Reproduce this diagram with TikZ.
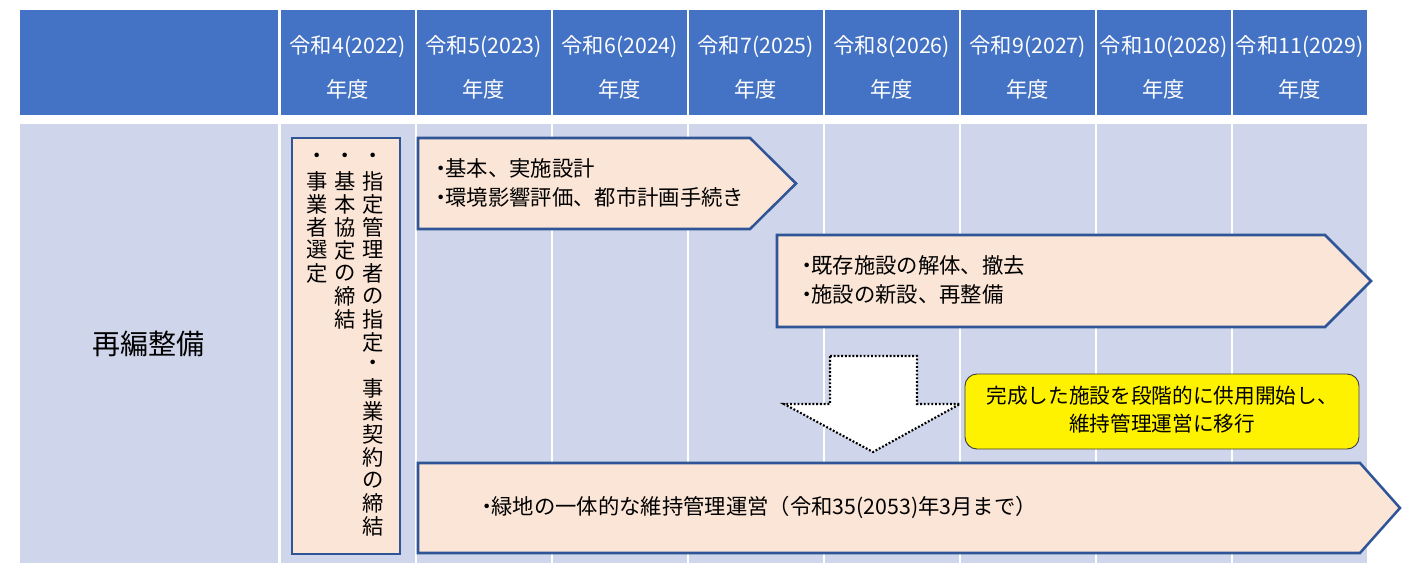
\documentclass[tikz,border=0pt]{standalone}
\usepackage{fontspec}
\setmainfont{Noto Sans CJK JP}
\definecolor{hdrblue}{HTML}{4472C4}
\definecolor{bodyblue}{HTML}{CFD5EA}
\definecolor{peachfill}{HTML}{FBE5D6}
\definecolor{bordblue}{HTML}{2F5597}
\newcommand\bul{・\hspace{-0.28em}}
\tikzset{
  hdrtext/.style={text=white, font=\fontsize{16}{18}\selectfont, inner sep=0pt},
  peachbox/.style={fill=peachfill, draw=bordblue, line width=1.9pt, line join=miter},
  bodytext/.style={font=\fontsize{16}{21.5}\selectfont, align=left, anchor=west, inner sep=0pt},
  vchar/.style={font=\fontsize{16}{18}\selectfont, inner sep=0pt},
  dotarrow/.style={fill=white, draw=black, line width=1.6pt, dash pattern=on 1.4pt off 1.4pt},
  notebox/.style={fill=yellow, draw=black!75, line width=0.7pt, rounded corners=9pt}
}
\begin{document}
\begin{tikzpicture}[x=0.75pt,y=-0.75pt]
\useasboundingbox (0,0) rectangle (1402,563);
% first column
\fill[hdrblue] (20,10) rectangle (278,115.5);
\fill[bodyblue] (20,124) rectangle (278,563);
\node[font=\fontsize{21}{24}\selectfont, inner sep=0pt] (label) at (148,344) {再編整備};
% year columns
\foreach \r/\yr [count=\i from 0] in {4/2022,5/2023,6/2024,7/2025,8/2026,9/2027,10/2028,11/2029} {
  \fill[hdrblue] (281+136*\i,10) rectangle (414.5+136*\i,115.5);
  \fill[bodyblue] (281+136*\i,124) rectangle (414.5+136*\i,563);
  \node[hdrtext] (h\i) at (347.75+136*\i,47) {令和\r(\yr)};
  \node[hdrtext] (hy\i) at (347.75+136*\i,89) {年度};
}
% vertical box
\draw[peachbox] (292,138) rectangle (400,554);
\foreach \c [count=\k from 0] in {・,指,定,管,理,者,の,指,定,・,事,業,契,約,の,締,結}
  \node[vchar] (va\k) at (373,158+23*\k) {\c};
\foreach \c [count=\k from 0] in {・,基,本,協,定,の,締,結}
  \node[vchar] (vb\k) at (345,158+23*\k) {\c};
\foreach \c [count=\k from 0] in {・,事,業,者,選,定}
  \node[vchar] (vc\k) at (317,158+23*\k) {\c};
% arrow 1
\draw[peachbox] (418,138) -- (750,138) -- (796,183.5) -- (750,229) -- (418,229) -- cycle;
\node[bodytext] (t1) at (430,183) {\bul 基本、実施設計\\\bul 環境影響評価、都市計画手続き};
% arrow 2
\draw[peachbox] (777,235) -- (1325,235) -- (1371,281) -- (1325,327) -- (777,327) -- cycle;
\node[bodytext] (t2) at (796,280) {\bul 既存施設の解体、撤去\\\bul 施設の新設、再整備};
% arrow 3
\draw[peachbox] (418,463) -- (1360,463) -- (1400,508) -- (1360,553) -- (418,553) -- cycle;
\node[bodytext] (t3) at (476,507) {\bul 緑地の一体的な維持管理運営（令和35(2053)年3月まで）};
% dotted down arrow
\draw[dotarrow] (830,356) -- (917,356) -- (917,404) -- (960,404) -- (873,452) -- (784,404) -- (830,404) -- cycle;
% note
\draw[notebox] (965,374) rectangle (1359,449);
\node[font=\fontsize{15.5}{21}\selectfont, align=center, inner sep=0pt] (note) at (1162,410) {完成した施設を段階的に供用開始し、\\維持管理運営に移行};
\end{tikzpicture}
\end{document}
